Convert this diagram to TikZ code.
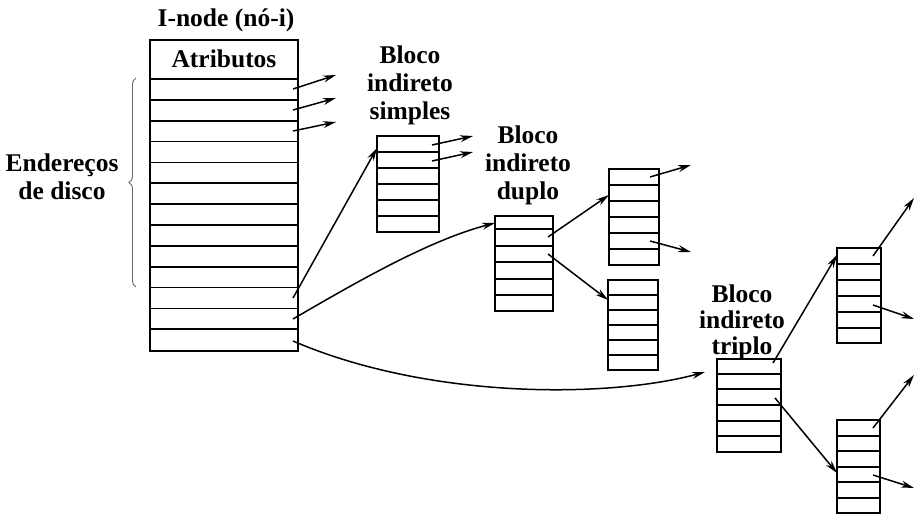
\documentclass[tikz,border=0pt]{standalone}
\usepackage{fontspec}
\setmainfont{Liberation Serif}
\usetikzlibrary{arrows.meta,decorations.pathreplacing}
\begin{document}
\begin{tikzpicture}[x=1pt,y=-1pt,
  blk/.style={draw, line width=2.6pt, inner sep=0pt, outer sep=0pt, anchor=north west},
  rowline/.style={line width=1.7pt},
  ptr/.style={line width=1.5pt, -{Stealth[length=13pt,width=7pt]}},
  lbl/.style={font=\bfseries\fontsize{25.5}{28}\selectfont, align=center, inner sep=0pt},
  lblt/.style={font=\bfseries\fontsize{25.5}{26}\selectfont, align=center, inner sep=0pt},
  brc/.style={decorate, decoration={brace, amplitude=7pt}, line width=0.9pt, draw=black!60}]
\useasboundingbox (0,0) rectangle (915,516);

% texts
\node[lbl, anchor=base] (title) at (226,27) {I-node (nó-i)};
\node[lbl, anchor=base] (attr) at (224,68) {Atributos};
\node[lbl] (ender) at (62,177) {Endereços\\de disco};
\node[lbl] (ts) at (410,85) {Bloco\\indireto\\simples};
\node[lbl] (td) at (528,165) {Bloco\\indireto\\duplo};
\node[lblt] (tt) at (742,322) {Bloco\\indireto\\triplo};

% i-node
\node[blk, minimum width=148pt, minimum height=311pt] (inode) at (150,40) {};
\draw[line width=2.2pt] (150,79) -- (298,79);
\foreach \k in {1,...,12} \draw[rowline] (150,{79+20.85*\k}) -- (298,{79+20.85*\k});
\draw[brc] (136,287) -- (136,78);

% single indirect
\node[blk, minimum width=62pt, minimum height=96pt] (bs) at (377,136) {};
\foreach \y in {152,168,184,200,216} \draw[rowline] (377,\y) -- (439,\y);
% double indirect
\node[blk, minimum width=58pt, minimum height=95pt] (bd) at (495,216) {};
\foreach \y in {229,246,262,279,295} \draw[rowline] (495,\y) -- (553,\y);
\node[blk, minimum width=50pt, minimum height=96pt] (bdu) at (609,169) {};
\foreach \y in {185,201,217,233,249} \draw[rowline] (609,\y) -- (659,\y);
\node[blk, minimum width=50pt, minimum height=90pt] (bdl) at (608,280) {};
\foreach \y in {295,310,325,340,355} \draw[rowline] (608,\y) -- (658,\y);
% triple indirect
\node[blk, minimum width=64pt, minimum height=93pt] (bt) at (717,359) {};
\foreach \y in {374,389,405,421,436} \draw[rowline] (717,\y) -- (781,\y);
\node[blk, minimum width=44pt, minimum height=95pt] (btu) at (837,248) {};
\foreach \y in {264,280,296,312,328} \draw[rowline] (837,\y) -- (881,\y);
\node[blk, minimum width=43pt, minimum height=93pt] (btl) at (837,420) {};
\foreach \y in {436,451,467,482,498} \draw[rowline] (837,\y) -- (880,\y);

% coordinates
\coordinate (i1) at (293,89);   \coordinate (o1) at (336,75);
\coordinate (i2) at (293,110);  \coordinate (o2) at (336,98);
\coordinate (i3) at (293,131);  \coordinate (o3) at (336,122);
\coordinate (i11) at (293,298); \coordinate (bsin) at (377,148);
\coordinate (i12) at (293,319); \coordinate (bdin) at (495,223);
\coordinate (i13) at (293,341); \coordinate (btin) at (705,372);
\coordinate (s1) at (432,145);  \coordinate (so1) at (473,136);
\coordinate (s2) at (432,161);  \coordinate (so2) at (473,152);
\coordinate (d1) at (548,237);  \coordinate (bduin) at (609,195);
\coordinate (d2) at (548,254);  \coordinate (bdlin) at (608,300);
\coordinate (du1) at (650,177); \coordinate (duo1) at (691,165);
\coordinate (du2) at (650,241); \coordinate (duo2) at (691,252);
\coordinate (t1) at (773,363);  \coordinate (btuin) at (837,255);
\coordinate (t2) at (775,398);  \coordinate (btlin) at (837,473);
\coordinate (tu1) at (873,256); \coordinate (tuo1) at (914,198);
\coordinate (tu2) at (873,305); \coordinate (tuo2) at (914,319);
\coordinate (tl1) at (873,428); \coordinate (tlo1) at (914,375);
\coordinate (tl2) at (873,475); \coordinate (tlo2) at (914,488);

% pointers
\draw[ptr] (i1) -- (o1);
\draw[ptr] (i2) -- (o2);
\draw[ptr] (i3) -- (o3);
\draw[ptr] (i11) -- (bsin);
\draw[ptr] (i12) .. controls (360,280) and (430,240) .. (bdin);
\draw[ptr] (i13) .. controls (430,400) and (610,398) .. (btin);
\draw[ptr] (s1) -- (so1);
\draw[ptr] (s2) -- (so2);
\draw[ptr] (d1) -- (bduin);
\draw[ptr] (d2) -- (bdlin);
\draw[ptr] (du1) -- (duo1);
\draw[ptr] (du2) -- (duo2);
\draw[ptr] (t1) -- (btuin);
\draw[ptr] (t2) -- (btlin);
\draw[ptr] (tu1) -- (tuo1);
\draw[ptr] (tu2) -- (tuo2);
\draw[ptr] (tl1) -- (tlo1);
\draw[ptr] (tl2) -- (tlo2);
\end{tikzpicture}
\end{document}
